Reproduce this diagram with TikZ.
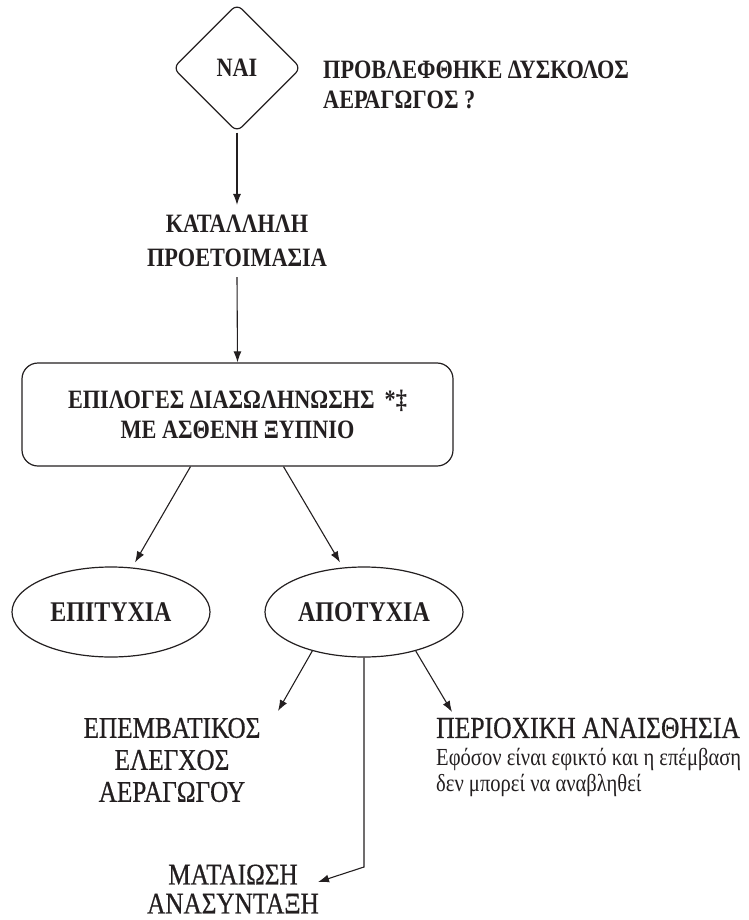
\documentclass[tikz,border=0pt]{standalone}
\usepackage{fontspec}
\setmainfont{Liberation Serif}[FakeStretch=0.84]
\newfontfamily\midfont{Liberation Serif}[FakeStretch=0.84, FakeBold=0.6]
\usetikzlibrary{shapes.geometric,arrows.meta}
\usetikzlibrary{positioning,calc}

\definecolor{ink}{RGB}{35,31,32}

\tikzset{
	flow/.style={draw=ink, line width=1.2pt},
	arr/.style={draw=ink, line width=1.1pt, -{Latex[length=11pt,width=8pt]}},
	headtext/.style={text=ink, font=\fontsize{26.5}{30}\bfseries\selectfont, align=center, inner sep=2pt},
	bigtext/.style={text=ink, font=\midfont\fontsize{30}{32}\selectfont, align=center, inner sep=2pt},
	notetext/.style={text=ink, font=\fontsize{24.5}{26}\selectfont, align=left, inner sep=2pt},
}

\begin{document}
\begin{tikzpicture}[x=1pt,y=-1pt]
	\useasboundingbox (0,0) rectangle (748,920);
	% question on top
	\node[flow, diamond, rounded corners=7pt, minimum width=128pt, minimum height=128pt,
		headtext] (nai) at (237,68) {ΝΑΙ};
	\node[headtext, align=left, anchor=west] (quest) at (321,85)
		{ΠΡΟΒΛΕΦΘΗΚΕ ΔΥΣΚΟΛΟΣ\\ΑΕΡΑΓΩΓΟΣ ?};
	\node[headtext, font=\fontsize{26.5}{34}\bfseries\selectfont, inner sep=10pt] (prep) at (237,241)
		{ΚΑΤΑΛΛΗΛΗ\\ΠΡΟΕΤΟΙΜΑΣΙΑ};
	% intubation options
	\node[flow, rectangle, rounded corners=16pt, minimum width=431pt, minimum height=103pt,
		headtext] (opts) at (237.5,414.5)
		{ΕΠΙΛΟΓΕΣ ΔΙΑΣΩΛΗΝΩΣΗΣ \,*‡\\ΜΕ ΑΣΘΕΝΗ ΞΥΠΝΙΟ};
	\node[flow, ellipse, minimum width=198pt, minimum height=90pt, inner sep=0pt,
		headtext, font=\fontsize{28.5}{30}\bfseries\selectfont] (succ) at (111,612) {ΕΠΙΤΥΧΙΑ};
	\node[flow, ellipse, minimum width=198pt, minimum height=90pt, inner sep=0pt,
		headtext, font=\fontsize{28.5}{30}\bfseries\selectfont] (fail) at (364,612) {ΑΠΟΤΥΧΙΑ};
	% outcomes after failure
	\node[bigtext] (inv) at (172,760) {ΕΠΕΜΒΑΤΙΚΟΣ\\ΕΛΕΓΧΟΣ\\ΑΕΡΑΓΩΓΟΥ};
	\node[bigtext, font=\midfont\fontsize{30.5}{32}\selectfont, anchor=west] (reg) at (434,728)
		{ΠΕΡΙΟΧΙΚΗ ΑΝΑΙΣΘΗΣΙΑ};
	\node[notetext, anchor=north west] (regnote) at ($(reg.south west)+(0,6)$)
		{Εφόσον είναι εφικτό και η επέμβαση\\δεν μπορεί να αναβληθεί};
	\node[bigtext, font=\midfont\fontsize{30}{29}\selectfont] (canc) at (233,889) {ΜΑΤΑΙΩΣΗ\\ΑΝΑΣΥΝΤΑΞΗ};

	\coordinate (invtip) at (278,711);
	\coordinate (regtip) at (452,712);
	\coordinate (bend) at (364,867);
	\coordinate (canctip) at (318,882);

	\draw[arr] (nai.south) -- (prep.north);
	\draw[arr] (prep.south) -- (opts.north);
	\draw[arr] ([xshift=-47pt]opts.south) -- ([xshift=24pt,yshift=4pt]succ.north);
	\draw[arr] ([xshift=46pt]opts.south) -- ([xshift=-24pt,yshift=4pt]fail.north);
	\draw[arr] (fail.217) -- (invtip);
	\draw[arr] (fail.323) -- (regtip);
	\draw[arr] (fail.south) -- (bend) -- (canctip);
\end{tikzpicture}
\end{document}
